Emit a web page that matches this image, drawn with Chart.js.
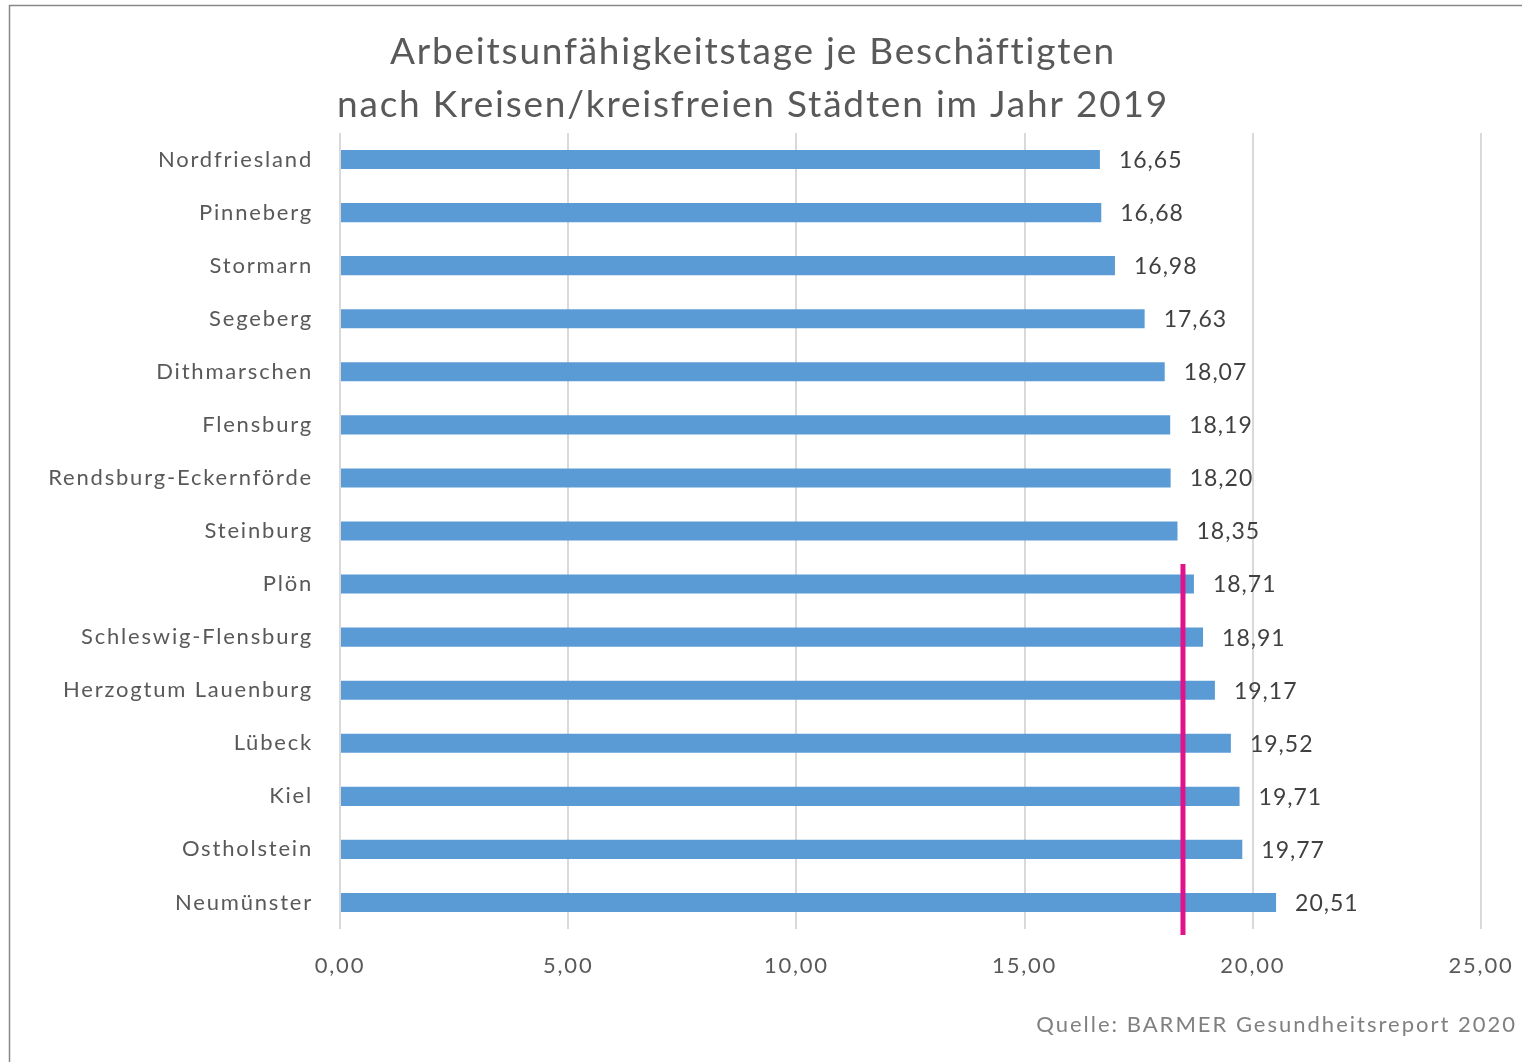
<!DOCTYPE html>
<html><head><meta charset="utf-8">
<script src="https://cdn.jsdelivr.net/npm/chart.js@4"></script>
<style>html,body{margin:0;padding:0;background:#fff;}#wrap{width:1522px;height:1062px;}</style>
</head><body><div id="wrap"><canvas id="c" width="1522" height="1062"></canvas></div>
<script>
const titleLines = ["Arbeitsunfähigkeitstage je Beschäftigten", "nach Kreisen/kreisfreien Städten im Jahr 2019"];
const categories = ["Nordfriesland","Pinneberg","Stormarn","Segeberg","Dithmarschen","Flensburg","Rendsburg-Eckernförde","Steinburg","Plön","Schleswig-Flensburg","Herzogtum Lauenburg","Lübeck","Kiel","Ostholstein","Neumünster"];
const values = [16.65,16.68,16.98,17.63,18.07,18.19,18.20,18.35,18.71,18.91,19.17,19.52,19.71,19.77,20.51];
const averageValue = 18.47;
const averageFromIndex = 8;
const xTicks = [0,5,10,15,20,25];
const sourceText = "Quelle: BARMER Gesundheitsreport 2020";
const FONT = "Lato";
const fmt = v => v.toFixed(2).replace('.', ',');

const decor = {
  id: 'decor',
  beforeInit(chart) { chart.ctx.letterSpacing = '1.8px'; },
  beforeDraw(chart) {
    const ctx = chart.ctx;
    ctx.letterSpacing = '1.8px';
    ctx.save();
    ctx.fillStyle = '#fff';
    ctx.fillRect(0, 0, chart.width, chart.height);
    ctx.strokeStyle = '#888';
    ctx.lineWidth = 1.5;
    ctx.beginPath();
    ctx.moveTo(9.5, chart.height + 5);
    ctx.lineTo(9.5, 5.5);
    ctx.lineTo(chart.width + 5, 5.5);
    ctx.stroke();
    ctx.fillStyle = '#595959';
    ctx.font = '37px ' + FONT;
    ctx.textAlign = 'center';
    ctx.textBaseline = 'middle';
    titleLines.forEach((t, i) => ctx.fillText(t, 753, 52 + i * 53));
    ctx.restore();
  },
  afterDatasetsDraw(chart) {
    const ctx = chart.ctx;
    const meta = chart.getDatasetMeta(0);
    ctx.save();
    ctx.letterSpacing = '1px';
    ctx.fillStyle = '#404040';
    ctx.font = '23px ' + FONT;
    ctx.textAlign = 'left';
    ctx.textBaseline = 'middle';
    meta.data.forEach((bar, i) => {
      ctx.fillText(fmt(values[i]), bar.x + 19, bar.y + 1);
    });
    const xs = chart.scales.x, ys = chart.scales.y;
    const x = xs.getPixelForValue(averageValue);
    const y0 = ys.getPixelForValue(averageFromIndex) - 20;
    const y1 = chart.chartArea.bottom + 6;
    ctx.strokeStyle = '#e0138c';
    ctx.lineWidth = 5;
    ctx.beginPath();
    ctx.moveTo(x, y0);
    ctx.lineTo(x, y1);
    ctx.stroke();
    ctx.letterSpacing = '2px';
    ctx.fillStyle = '#808080';
    ctx.font = '22px ' + FONT;
    ctx.textAlign = 'right';
    ctx.fillText(sourceText, 1517, 1025);
    ctx.restore();
  }
};

new Chart(document.getElementById('c'), {
  type: 'bar',
  data: {
    labels: categories,
    datasets: [{
      data: values,
      backgroundColor: '#5b9bd5',
      barPercentage: 0.72,
      categoryPercentage: 0.5
    }]
  },
  options: {
    indexAxis: 'y',
    responsive: false,
    animation: false,
    devicePixelRatio: 1,
    layout: { padding: { left: 10, right: 41, top: 133, bottom: 0 } },
    plugins: { legend: { display: false }, title: { display: false }, tooltip: { enabled: false } },
    scales: {
      x: {
        min: 0, max: 25,
        afterBuildTicks(s) { s.ticks = xTicks.map(v => ({ value: v })); },
        afterFit(s) { s.height = 133; s.paddingLeft = 0; s.paddingRight = 0; },
        grid: { color: '#d9d9d9', lineWidth: 2, drawTicks: false },
        border: { display: false },
        ticks: { color: '#595959', font: { family: FONT, size: 22 }, padding: 24, callback: v => fmt(v) }
      },
      y: {
        afterFit(s) { s.width = 330; s.paddingTop = 0; s.paddingBottom = 0; },
        grid: { display: false, drawTicks: false },
        border: { display: false },
        ticks: { color: '#595959', font: { family: FONT, size: 22 }, padding: 27 }
      }
    }
  },
  plugins: [decor]
});
</script>
</body></html>
